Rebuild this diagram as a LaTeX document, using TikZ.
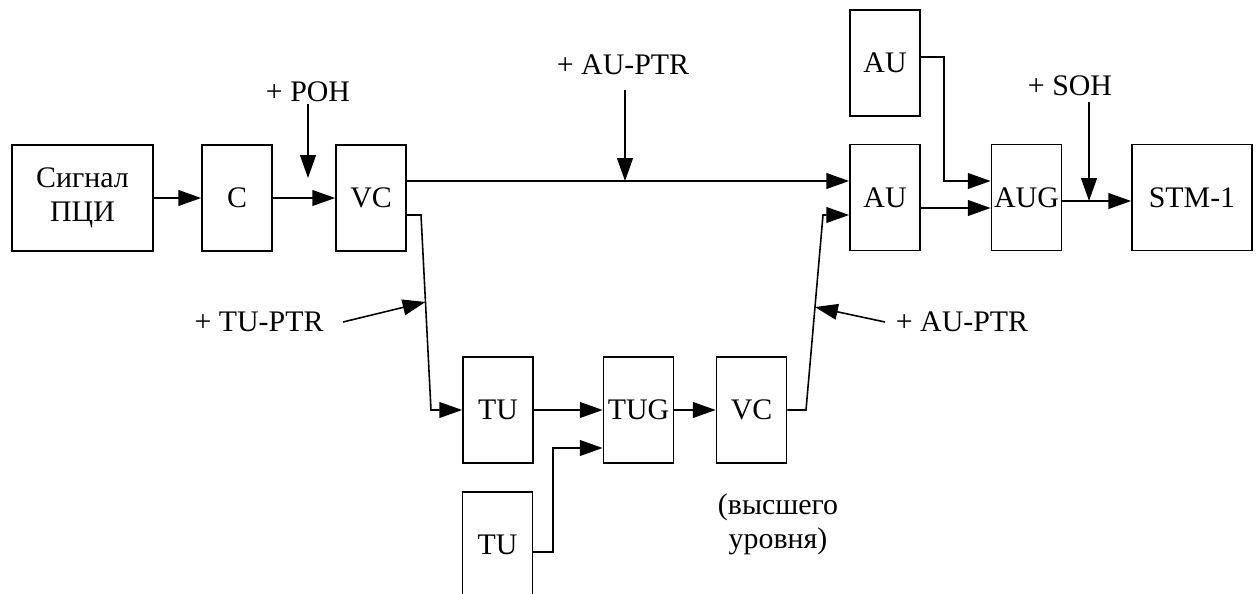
\documentclass[tikz,border=0pt]{standalone}
\usepackage{fontspec}
\setmainfont{Liberation Serif}
\usepackage{tikz}
\usetikzlibrary{positioning, calc, arrows.meta}

\begin{document}
\begin{tikzpicture}[
    x=0.02cm, y=-0.02cm,
    blk/.style={rectangle, draw, line width=1pt, minimum width=1.4cm,
                minimum height=2.12cm, inner sep=0pt, font=\fontsize{17}{19.5}\selectfont},
    wideblk/.style={blk, minimum width=2.82cm, align=center},
    arr/.style={-{Triangle[length=13pt, width=9pt]}, line width=0.9pt},
    mylabel/.style={font=\fontsize{17}{19.5}\selectfont, inner sep=1pt, align=center},
  ]
    \useasboundingbox (0,0) rectangle (1256,594);
    \clip (0,0) rectangle (1256,594);

    % Input chain
    \node[wideblk] (SIG) at (82.5,198) {Сигнал\\ПЦИ};
    \node[blk] (C) at (237,198) {C};
    \node[blk] (VC1) at (371,198) {VC};
    \draw[arr] (SIG) -- (C);
    \draw[arr] (C) -- (VC1);
    \node[mylabel] (POH) at (308,92) {+ POH};
    \coordinate (POH_E) at (308,178);
    \draw[arr] (POH.south) -- (POH_E);

    % Upper branch
    \node[blk] (AU1) at (885,197.5) {AU};
    \node[blk] (AU0) at (885,63) {AU};
    \node[blk] (AUG) at (1026.5,197.5) {AUG};
    \node[blk, minimum width=2.4cm] (STM) at (1192,197.5) {STM-1};
    \draw[arr] (VC1.east |- 0,181) -- (AU1.west |- 0,181);
    \node[mylabel] (AUPTR1) at (623,65) {+ AU-PTR};
    \draw[arr] (625,90) -- (625,181);
    \draw[arr] (AU0.east |- 0,57) -- (944,57) -- (944,181) -- (AUG.west |- 0,181);
    \draw[arr] (AU1.east |- 0,208) -- (AUG.west |- 0,208);
    \draw[arr] (AUG.east |- 0,201) -- (STM.west |- 0,201);
    \node[mylabel] (SOH) at (1070,86) {+ SOH};
    \draw[arr] (1089,102) -- (1089,201);

    % Lower branch
    \node[blk] (TU1) at (498,410) {TU};
    \node[blk] (TUG) at (638.5,410) {TUG};
    \node[blk] (VC2) at (751.5,410) {VC};
    \node[blk] (TU2) at (497.5,545) {TU};
    \coordinate (K1) at (421,215);
    \coordinate (K2) at (431,410);
    \coordinate (K3) at (806,410);
    \coordinate (K4) at (823,215);
    \draw[arr] (VC1.east |- K1) -- (K1) -- (K2) -- (TU1.west |- K2);
    \draw[arr] (TU1) -- (TUG);
    \draw[arr] (TUG) -- (VC2);
    \draw[arr] (VC2.east |- K3) -- (K3) -- (K4) -- (AU1.west |- K4);
    \draw[arr] (TU2.east |- 0,552) -- (553,552) -- (553,448) -- (TUG.west |- 0,448);

    % Pointers
    \node[mylabel] (TUPTR) at (259,322) {+ TU-PTR};
    \coordinate (TUPTR_S) at (343,322);
    \draw[arr] (TUPTR_S) -- ($(K1)!0.446!(K2)$);
    \node[mylabel] (AUPTR2) at (962,322) {+ AU-PTR};
    \coordinate (AUPTR2_S) at (885,322);
    \draw[arr] (AUPTR2_S) -- ($(K3)!0.528!(K4)$);

    \node[mylabel] (HIGH) at (778,524) {(высшего\\уровня)};
  \end{tikzpicture}
\end{document}
